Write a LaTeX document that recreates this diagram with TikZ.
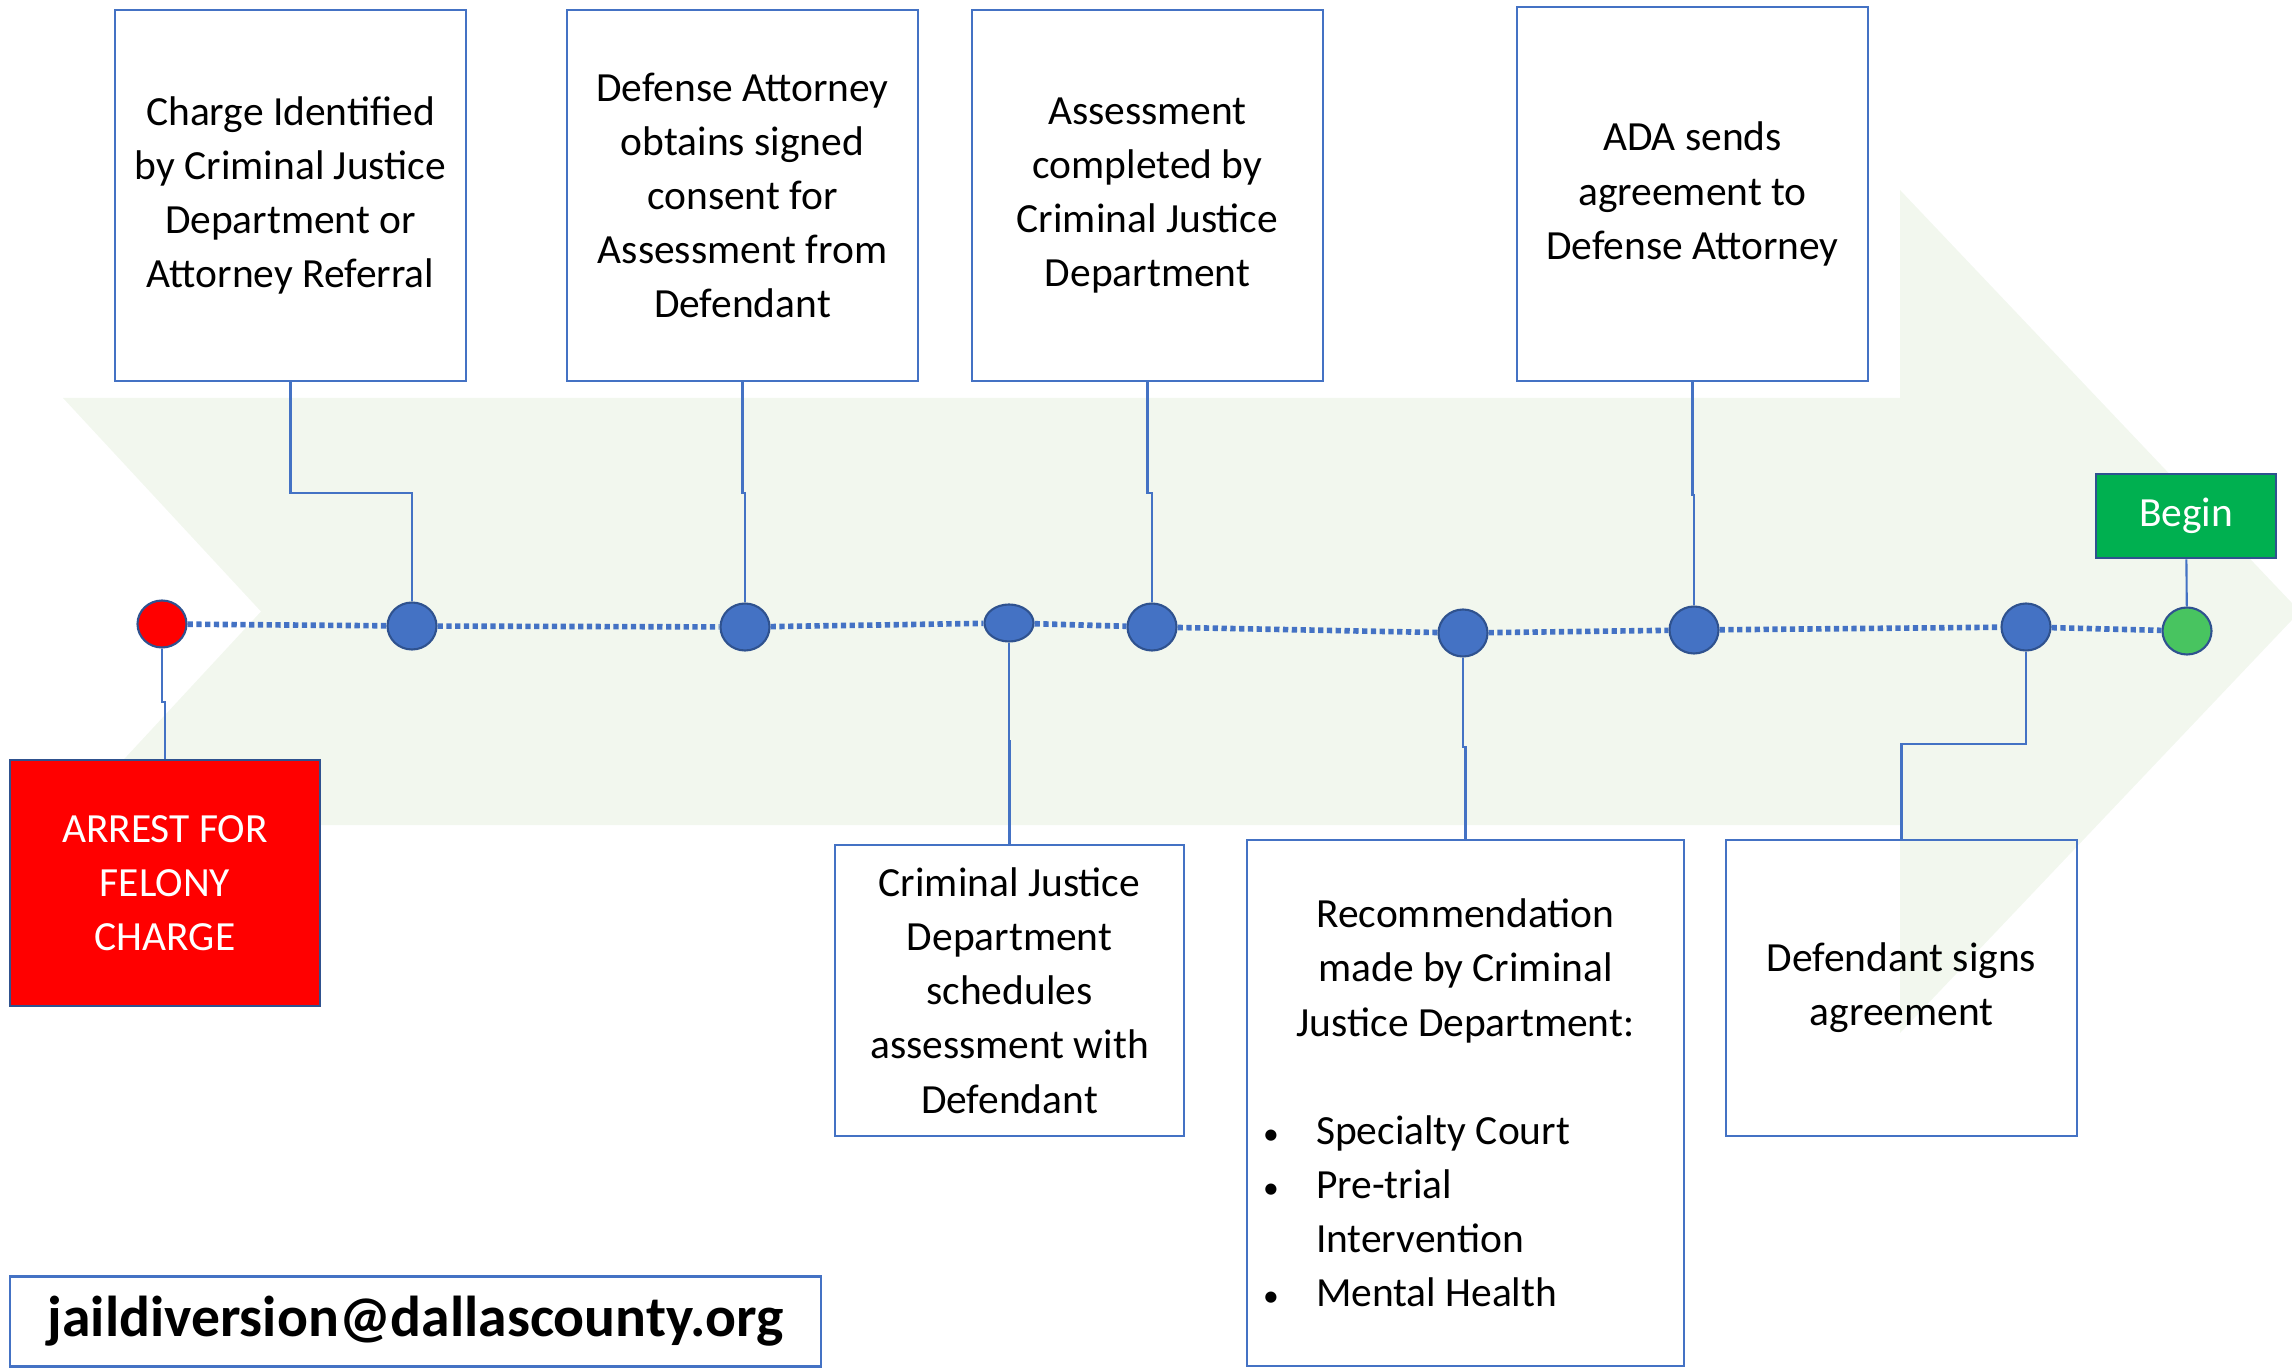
\documentclass[tikz,border=0pt]{standalone}
\usepackage{fontspec}
\setmainfont{Carlito}
\usetikzlibrary{shapes.geometric}

\newcommand{\boxfont}{\fontsize{11.8}{15.4}\selectfont}
\newcommand{\bulletitem}[1]{\hspace*{0.16cm}\makebox[0.53cm][l]{\fontsize{9}{15.4}\selectfont\textbullet}#1}

\tikzset{
boxline/.style = {draw = BoxBlue, line width = 0.8pt, inner sep = 0pt, font = \boxfont, text = black},
stepbox/.style = {boxline, align = center},
dot/.style = {ellipse, draw = DotEdge, line width = 0.6pt, fill = BoxBlue, minimum width = 0.49cm, minimum height = 0.47cm, inner sep = 0pt},
link/.style = {draw = BoxBlue, line width = 0.6pt},
timeline/.style = {draw = BoxBlue, line width = 1.6pt, dash pattern = on 1.5pt off 1pt}
}

\begin{document}
\begin{tikzpicture}
\definecolor{BoxBlue}{RGB}{68, 114, 196}
\definecolor{DotEdge}{RGB}{47, 82, 143}
\definecolor{ArrowGreen}{RGB}{242, 247, 238}
\definecolor{BeginGreen}{RGB}{0, 176, 80}
\definecolor{DotGreen}{RGB}{72, 196, 96}
\useasboundingbox (0,0) rectangle (22.92,-13.69);
\clip (0,0) rectangle (22.92,-13.69);
% big arrow behind the timeline
\fill[ArrowGreen] (0.63,-3.98) -- (19.0,-3.98) -- (19.0,-1.90) -- (23.0,-6.115) -- (19.0,-10.33) -- (19.0,-8.25) -- (0.63,-8.25) -- (2.61,-6.115) -- cycle;
% dots on the timeline
\foreach \n/\x/\y in {d1/4.12/-6.26, d2/7.45/-6.27, d4/11.52/-6.27, d5/14.63/-6.33, d6/16.94/-6.30, d7/20.26/-6.27}{
\node[dot] (\n) at (\x,\y) {};
}
\node[dot, minimum height = 0.37cm] (d3) at (10.09,-6.23) {};
\node[dot, fill = red] (d0) at (1.62,-6.24) {};
\node[dot, fill = DotGreen] (d8) at (21.87,-6.31) {};
\draw[timeline] (d0) -- (d1) -- (d2) -- (d3) -- (d4) -- (d5) -- (d6) -- (d7) -- (d8);
% boxes above
\node[stepbox, minimum width = 3.51cm, minimum height = 3.71cm] (charge) at (2.905,-1.955) {Charge Identified\\by Criminal Justice\\Department or\\Attorney Referral};
\node[stepbox, minimum width = 3.51cm, minimum height = 3.71cm] (consent) at (7.425,-1.955) {Defense Attorney\\obtains signed\\consent for\\Assessment from\\Defendant};
\node[stepbox, minimum width = 3.51cm, minimum height = 3.71cm] (assess) at (11.475,-1.955) {Assessment\\completed by\\Criminal Justice\\Department};
\node[stepbox, minimum width = 3.51cm, minimum height = 3.74cm] (ada) at (16.925,-1.94) {ADA sends\\agreement to\\Defense Attorney};
% boxes below
\node[stepbox, minimum width = 3.49cm, minimum height = 2.91cm] (sched) at (10.095,-9.905) {Criminal Justice\\Department\\schedules\\assessment with\\Defendant};
\node[boxline, minimum width = 4.37cm, minimum height = 5.26cm] (recom) at (14.655,-11.03) {\parbox{4.37cm}{\centering Recommendation\\made by Criminal\\Justice Department:\par
\vspace{15.4pt}\raggedright
\bulletitem{Specialty Court}\\
\bulletitem{Pre-trial}\\
\hspace*{0.69cm}Intervention\\
\bulletitem{Mental Health}}};
\node[stepbox, minimum width = 3.51cm, minimum height = 2.96cm] (signs) at (19.015,-9.88) {Defendant signs\\agreement};
\node[stepbox, draw = DotEdge, fill = red, text = white, minimum width = 3.10cm, minimum height = 2.46cm] (arrest) at (1.65,-8.83) {ARREST FOR\\FELONY\\CHARGE};
\node[stepbox, draw = DotEdge, fill = BeginGreen, text = white, minimum width = 1.80cm, minimum height = 0.84cm] (beginbox) at (21.86,-5.16) {Begin};
\node[stepbox, minimum width = 8.11cm, minimum height = 0.90cm, font = \fontsize{16.4}{19}\selectfont\bfseries] (email) at (4.155,-13.215) {jaildiversion@dallascounty.org};
% connectors
\draw[link] (charge.south) -- ++(0,-1.11) -| (d1);
\draw[link] (consent.south) -- ++(0,-1.11) -| (d2);
\draw[link] (assess.south) -- ++(0,-1.11) -| (d4);
\draw[link] (ada.south) -- ++(0,-1.13) -| (d6);
\draw[link] (arrest.north) -- ++(0,0.57) -| (d0);
\draw[link] (sched.north) -- ++(0,1.03) -| (d3);
\draw[link] (recom.north) -- ++(0,0.92) -| (d5);
\draw[link] (signs.north) -- ++(0,0.95) -| (d7);
\draw[link] (beginbox) -- (d8);
\end{tikzpicture}
\end{document}
